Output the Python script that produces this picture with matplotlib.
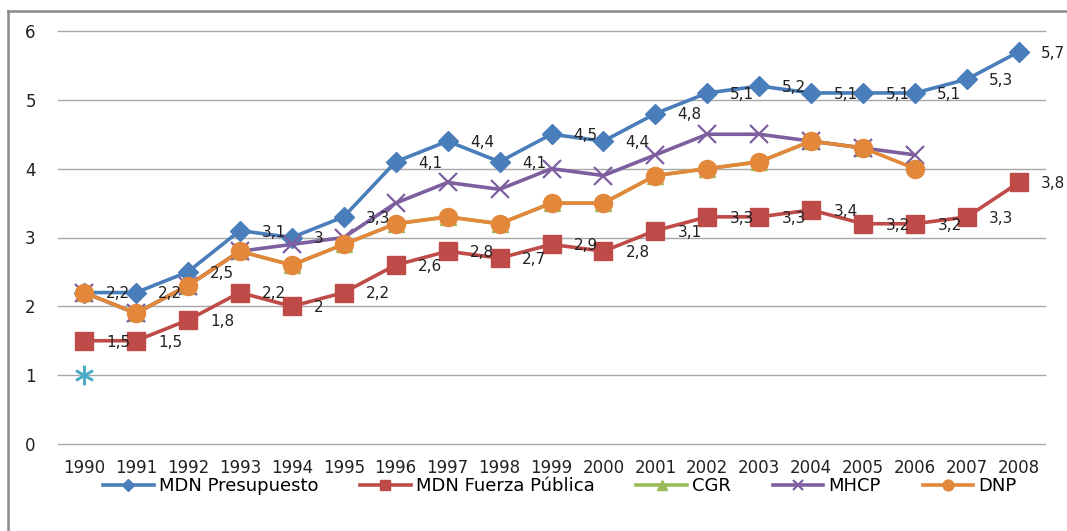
import numpy as np
import matplotlib
matplotlib.use("Agg")
import matplotlib.pyplot as plt
from matplotlib.lines import Line2D

# donnees
years = [str(y) for y in range(1990, 2009)]
mdn_presupuesto = [2.2, 2.2, 2.5, 3.1, 3.0, 3.3, 4.1, 4.4, 4.1, 4.5, 4.4, 4.8, 5.1, 5.2, 5.1, 5.1, 5.1, 5.3, 5.7]
mdn_fuerza = [1.5, 1.5, 1.8, 2.2, 2.0, 2.2, 2.6, 2.8, 2.7, 2.9, 2.8, 3.1, 3.3, 3.3, 3.4, 3.2, 3.2, 3.3, 3.8]
cgr = [2.2, 1.9, 2.3, 2.8, 2.6, 2.9, 3.2, 3.3, 3.2, 3.5, 3.5, 3.9, 4.0, 4.1, 4.4, 4.3]
mhcp = [2.2, 1.9, 2.3, 2.8, 2.9, 3.0, 3.5, 3.8, 3.7, 4.0, 3.9, 4.2, 4.5, 4.5, 4.4, 4.3, 4.2]
dnp = [2.2, 1.9, 2.3, 2.8, 2.6, 2.9, 3.2, 3.3, 3.2, 3.5, 3.5, 3.9, 4.0, 4.1, 4.4, 4.3, 4.0]
extra = [1.0]  # point isole (etoile) sans legende

blue = "#4A7EBB"
red = "#BE4B48"
green = "#9BBB59"
purple = "#7D5FA0"
orange = "#E3873B"
teal = "#4BACC6"

plt.rcParams['font.family'] = ['DejaVu Sans']

fig = plt.figure(figsize=(10.67, 5.31), dpi=100)
ax = fig.add_axes([58/1067, 1 - 444/531, (1045 - 58)/1067, (444 - 31)/531])

x = np.arange(len(years))

ax.plot(x[:len(mdn_presupuesto)], mdn_presupuesto, color=blue, lw=2.6, marker="D", ms=10, label="MDN Presupuesto")
ax.plot(x[:len(mdn_fuerza)], mdn_fuerza, color=red, lw=2.6, marker="s", ms=12.5, label="MDN Fuerza Pública")
ax.plot(x[:len(cgr)], cgr, color=green, lw=2.6, marker="^", ms=11, label="CGR")
ax.plot(x[:len(mhcp)], mhcp, color=purple, lw=2.6, marker="x", ms=13, mew=1.6, label="MHCP")
ax.plot(x[:len(dnp)], dnp, color=orange, lw=2.6, marker="o", ms=13, label="DNP")
ax.plot(x[:len(extra)], extra, color=teal, lw=0, marker=(6, 2, 0), ms=14, mew=1.8, label="_nolegend_")

# etiquettes de donnees (format avec virgule)
def fmt(v):
    s = f"{v:.1f}".replace(".", ",")
    return s[:-2] if s.endswith(",0") else s

for serie in [mdn_presupuesto, mdn_fuerza]:
    for i, v in enumerate(serie):
        ax.annotate(fmt(v), (x[i], v), xytext=(16, -1), textcoords="offset points",
                    ha="left", va="center", fontsize=11, color="#222222", zorder=10)

ax.set_xlim(-0.5, len(years) - 0.5)
ax.set_ylim(0, 6)
ax.set_yticks(range(0, 7))
ax.set_xticks(x)
ax.set_xticklabels(years)
ax.grid(axis="y", color="#A8A8A8", lw=1.0)
for gl in ax.yaxis.get_gridlines():
    gl.set_clip_on(False)
ax.set_axisbelow(True)
for s in ax.spines.values():
    s.set_visible(False)
ax.tick_params(axis="y", length=0, pad=16, labelsize=12, labelcolor="#222222")
ax.tick_params(axis="x", length=0, pad=11, labelsize=12, labelcolor="#222222")

fig.legend(loc="center", bbox_to_anchor=(560/1067, 1 - 486/531), ncol=5, frameon=False,
           fontsize=13, handlelength=2.8, handletextpad=0.3, columnspacing=2.3, markerscale=0.6)

# cadre gris en haut et a gauche
fig.add_artist(Line2D([8/1067, 8/1067], [0, 1 - 11/531], color="#8A8A8A", lw=1.8, transform=fig.transFigure))
fig.add_artist(Line2D([8/1067, 1], [1 - 11/531, 1 - 11/531], color="#8A8A8A", lw=1.8, transform=fig.transFigure))

fig.savefig("out.png", dpi=100)
